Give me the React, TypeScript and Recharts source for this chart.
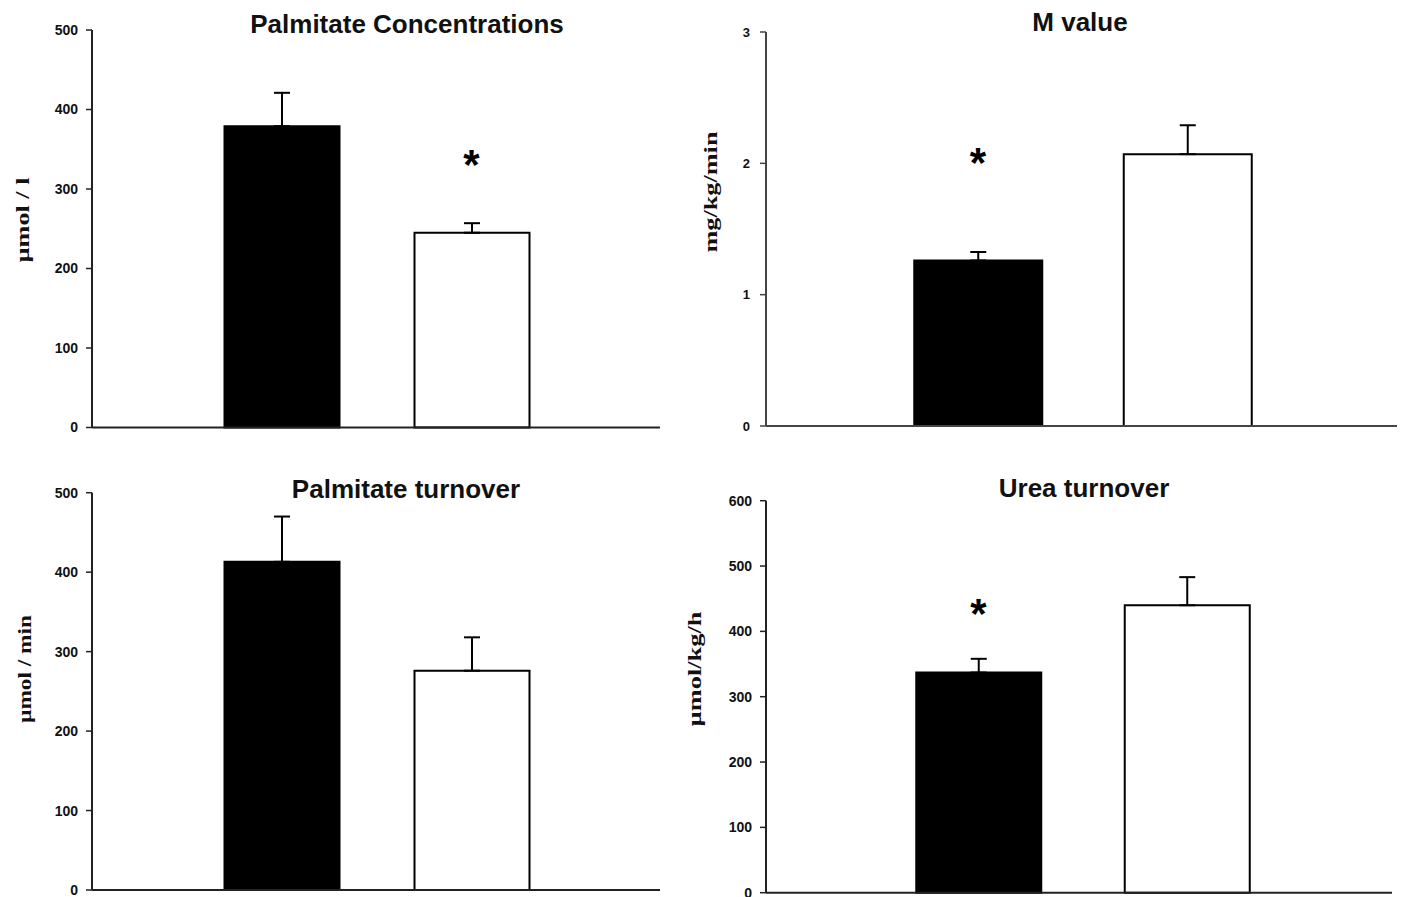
import React from 'react';
import { BarChart, Bar, XAxis, YAxis, ErrorBar, Cell, ReferenceDot } from 'recharts';

// ---- data ----
const groups = ['Group 1', 'Group 2'];
const barColors = ['#000000', '#ffffff'];

const palmitateConcentration = [379, 245];
const palmitateConcentrationSE = [42, 12];

const mValue = [1.26, 2.07];
const mValueSE = [0.065, 0.22];

const palmitateTurnover = [413, 276];
const palmitateTurnoverSE = [57, 42];

const ureaTurnover = [337, 440];
const ureaTurnoverSE = [21, 43];

const ticks500 = [0, 100, 200, 300, 400, 500];
const ticks3 = [0, 1, 2, 3];
const ticks600 = [0, 100, 200, 300, 400, 500, 600];

// significance markers (group, value height of the asterisk)
const palmitateConcentrationStar = { group: 'Group 2', at: 338 };
const mValueStar = { group: 'Group 1', at: 2.05 };
const ureaTurnoverStar = { group: 'Group 1', at: 437 };

type PanelProps = {
  title: string;
  yLabel: string;
  values: number[];
  se: number[];
  ticks: number[];
  star?: { group: string; at: number };
  left: number;
  top: number;
  width: number;
  height: number;
  margin: { top: number; right: number; bottom: number; left: number };
  padL: number;
  padR: number;
  barSize: number;
  tickFont: number;
  tickMargin: number;
  labelX: number;
  labelY: number;
  labelLen: number;
  titleX: number;
  titleY: number;
  axisColor: string;
};

const STAR_FS = 42;

function Panel(p: PanelProps) {
  const data = groups.map((g, i) => ({ group: g, value: p.values[i], err: [0, p.se[i]] }));
  const maxTick = p.ticks[p.ticks.length - 1];
  const renderLabel = () => (
    <text
      transform={`translate(${p.labelX},${p.labelY}) rotate(-90)`}
      textAnchor="middle"
      dominantBaseline="central"
      fontFamily="'Liberation Serif', 'Times New Roman', serif"
      fontWeight="bold"
      fontSize={19}
      fill="#111"
      textLength={p.labelLen}
      lengthAdjust="spacingAndGlyphs"
    >
      {p.yLabel}
    </text>
  );
  return (
    <>
      <div
        style={{
          position: 'absolute',
          left: p.left,
          top: p.top,
          width: p.width,
          height: p.height,
        }}
      >
        <BarChart width={p.width} height={p.height} data={data} margin={p.margin}>
          <XAxis
            dataKey="group"
            tick={false}
            tickLine={false}
            height={2}
            padding={{ left: p.padL, right: p.padR }}
            axisLine={{ stroke: p.axisColor, strokeWidth: 2 }}
          />
          <YAxis
            type="number"
            domain={[0, maxTick]}
            ticks={p.ticks}
            interval={0}
            width={60}
            tickSize={6}
            tickMargin={p.tickMargin}
            axisLine={{ stroke: p.axisColor, strokeWidth: 2 }}
            tickLine={{ stroke: p.axisColor, strokeWidth: 1.5 }}
            tick={{
              fontSize: p.tickFont,
              fontWeight: 'bold',
              fill: '#111',
              fontFamily: "'Liberation Sans', Arial, sans-serif",
            }}
            label={renderLabel}
          />
          <Bar
            dataKey="value"
            barSize={p.barSize}
            isAnimationActive={false}
            stroke="#000"
            strokeWidth={2}
          >
            {data.map((d, i) => (
              <Cell key={d.group} fill={barColors[i]} />
            ))}
            <ErrorBar dataKey="err" width={8} stroke="#000" strokeWidth={2} direction="y" />
          </Bar>
          {p.star && (
            <ReferenceDot
              x={p.star.group}
              y={p.star.at}
              r={0}
              isFront
              shape={(s: any) => (
                <text
                  x={s.cx}
                  y={s.cy + STAR_FS * 0.49}
                  textAnchor="middle"
                  fontSize={STAR_FS}
                  fontWeight="bold"
                  fontFamily="'Liberation Sans', Arial, sans-serif"
                  fill="#000"
                >
                  *
                </text>
              )}
            />
          )}
        </BarChart>
      </div>
      <div
        style={{
          position: 'absolute',
          left: p.titleX,
          top: p.titleY,
          transform: 'translate(-50%, -50%)',
          whiteSpace: 'nowrap',
          fontFamily: "'Liberation Sans', Arial, sans-serif",
          fontWeight: 'bold',
          fontSize: 26,
          color: '#111',
          lineHeight: 1,
        }}
      >
        {p.title}
      </div>
    </>
  );
}

export default function App() {
  return (
    <div
      style={{
        position: 'absolute',
        left: 0,
        top: 0,
        width: 1403,
        height: 897,
        background: '#ffffff',
        overflow: 'hidden',
      }}
    >
      <Panel
        title="Palmitate Concentrations"
        yLabel="µmol / l"
        values={palmitateConcentration}
        se={palmitateConcentrationSE}
        ticks={ticks500}
        star={palmitateConcentrationStar}
        left={0}
        top={0}
        width={700}
        height={445}
        margin={{ top: 30, right: 40, bottom: 15.5, left: 32 }}
        padL={94.5}
        padR={93.5}
        barSize={115}
        tickFont={14}
        tickMargin={8}
        labelX={22}
        labelY={220}
        labelLen={85}
        titleX={407}
        titleY={24}
        axisColor="#222"
      />
      <Panel
        title="M value"
        yLabel="mg/kg/min"
        values={mValue}
        se={mValueSE}
        ticks={ticks3}
        star={mValueStar}
        left={680}
        top={0}
        width={723}
        height={445}
        margin={{ top: 32, right: 6, bottom: 17, left: 26 }}
        padL={107.25}
        padR={104.75}
        barSize={128}
        tickFont={13}
        tickMargin={10}
        labelX={30}
        labelY={192}
        labelLen={121}
        titleX={1080}
        titleY={22}
        axisColor="#444"
      />
      <Panel
        title="Palmitate turnover"
        yLabel="µmol / min"
        values={palmitateTurnover}
        se={palmitateTurnoverSE}
        ticks={ticks500}
        left={0}
        top={460}
        width={700}
        height={437}
        margin={{ top: 32.7, right: 40, bottom: 5, left: 32 }}
        padL={94.5}
        padR={93.5}
        barSize={115}
        tickFont={14}
        tickMargin={8}
        labelX={24}
        labelY={209}
        labelLen={108}
        titleX={406}
        titleY={489}
        axisColor="#222"
      />
      <Panel
        title="Urea turnover"
        yLabel="µmol/kg/h"
        values={ureaTurnover}
        se={ureaTurnoverSE}
        ticks={ticks600}
        star={ureaTurnoverStar}
        left={680}
        top={460}
        width={723}
        height={437}
        margin={{ top: 40.7, right: 11, bottom: 2.3, left: 26 }}
        padL={108.25}
        padR={100.75}
        barSize={125}
        tickFont={14}
        tickMargin={8}
        labelX={14}
        labelY={209}
        labelLen={115}
        titleX={1084}
        titleY={488}
        axisColor="#222"
      />
    </div>
  );
}
